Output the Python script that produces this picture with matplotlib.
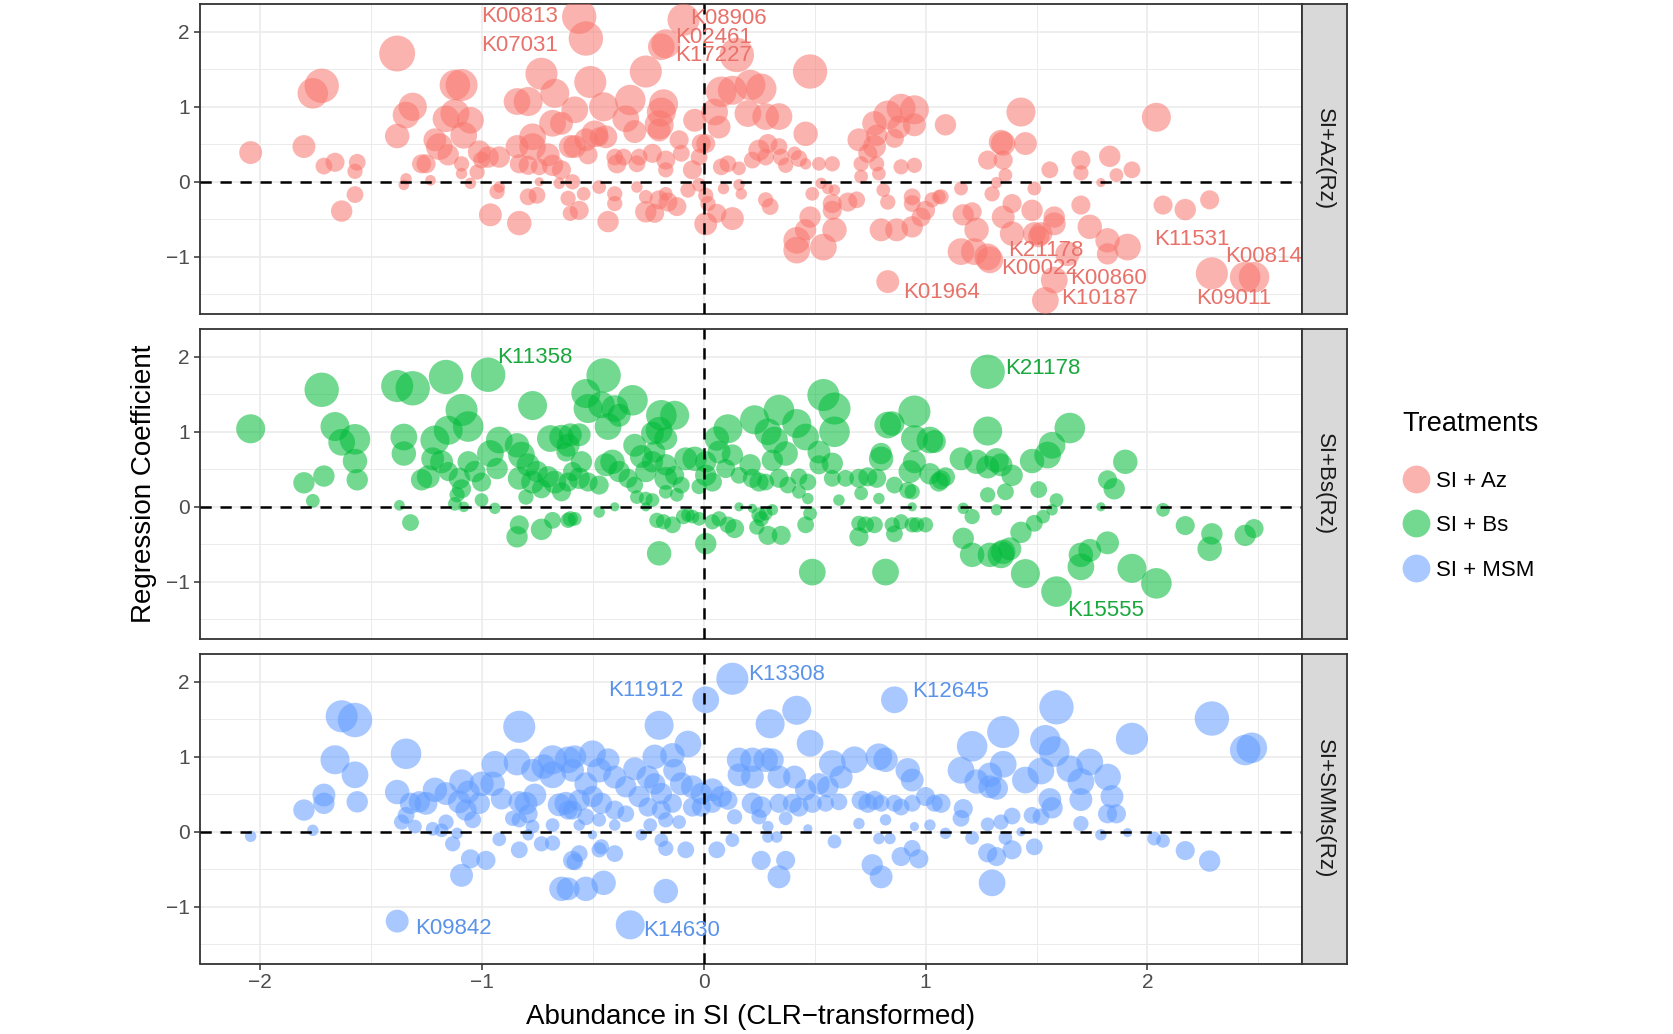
import matplotlib
matplotlib.use('Agg')
import matplotlib.pyplot as plt
from matplotlib.lines import Line2D
from matplotlib.ticker import MultipleLocator

plt.rcParams['font.family'] = ['Liberation Sans', 'DejaVu Sans']

# ---------------- data ----------------
# Panel SI+Az(Rz)
az_x = [-2.04, -1.80, -1.71, -1.66, -1.56, -1.57, -1.57, -1.63, -1.76, -1.72, -1.38, -1.38, -1.34, -1.31, -1.34, -1.35,
        -1.23, -1.27, -1.25, -1.19, -1.21, -1.16, -1.12, -1.12, -1.09, -1.05, -1.08, -1.15, -1.09, -1.09, -1.05, -1.01,
        -1.00, -0.97, -1.02, -0.92, -0.93, -0.92, -0.96, -0.83, -0.84, -0.79, -0.73, -0.67, -0.68, -0.64, -0.84, -0.77,
        -0.77, -0.83, -0.79, -0.74, -0.70, -0.68, -0.64, -0.60, -0.79, -0.75, -0.74, -0.65, -0.61, -0.60,
        -0.56, -0.53, -0.51, -0.58, -0.45, -0.33, -0.26, -0.17, -0.19, -0.09, 0.15, -0.35, -0.49, -0.44, -0.31, -0.20,
        -0.19, -0.20, -0.18, -0.04, -0.01, 0.07, 0.05, 0.08, 0.13, 0.21, 0.26, 0.20, 0.28, 0.34, 0.46, 0.48,
        -0.58, -0.53, -0.47, -0.52, -0.39, -0.40, -0.36, -0.30, -0.29, -0.23, -0.17, -0.17, -0.11, -0.10, -0.05, 0.01,
        -0.02, 0.08, 0.11, 0.16, 0.22, 0.25, 0.28, 0.29, 0.34, 0.35, 0.37, 0.43, 0.52, 0.58, 0.41, 0.46,
        -0.59, -0.54, -0.56, -0.47, -0.40, -0.40, -0.43, -0.30, -0.26, -0.20, -0.16, -0.12, -0.26, -0.22, -0.17, -0.07,
        -0.02, 0.01, 0.02, 0.06, 0.01, 0.13, 0.16, 0.09, 0.17, 0.28, 0.30, 0.48, 0.49, 0.53, 0.56, 0.59,
        0.58, 0.58, 0.59, 0.42, 0.42, 0.54, 0.46, 0.65, 0.69, 0.83, 0.70, 0.74, 0.77, 0.77, 0.78, 0.83,
        0.89, 0.95, 0.95, 0.88, 0.86, 1.09, 0.71, 0.78, 0.71, 0.79, 0.89, 0.95, 0.81, 0.83, 0.94, 0.94,
        0.98, 1.00, 0.80, 0.87, 0.94, 1.03, 1.06,
        1.43, 1.34, 1.35, 1.45, 1.28, 1.35, 1.36, 1.32, 1.16, 1.07, 1.30, 1.39, 1.48, 1.49, 1.56, 1.70,
        1.70, 1.83, 1.86, 1.93, 1.79, 1.70, 1.17, 1.21, 1.23, 1.35, 1.39, 1.52, 1.58, 1.58, 1.51, 1.74,
        1.82, 1.82, 1.91, 1.16, 1.22, 1.28, 1.29, 1.64, 1.58, 1.54, 2.07, 2.17, 2.28, 2.04, 2.29, 2.44,
        2.48, 1.49]
az_y = [0.39, 0.47, 0.21, 0.26, 0.26, 0.14, -0.17, -0.39, 1.18, 1.28, 1.71, 0.61, 0.89, 1.00, 0.04, -0.04,
        0.02, 0.24, 0.24, 0.47, 0.56, 0.84, 0.91, 1.29, 1.29, 0.82, 0.62, 0.36, 0.24, 0.11, -0.02, 0.40,
        0.29, 0.33, 0.13, 0.33, -0.13, -0.07, -0.44, -0.55, 1.07, 1.07, 1.44, 1.18, 0.78, 0.78, 0.47, 0.60,
        0.47, 0.24, 0.22, 0.20, 0.36, 0.22, 0.16, 0.47, -0.20, -0.18, 0.00, -0.02, -0.22, -0.42,
        2.20, 1.91, 1.33, 0.96, 1.00, 1.09, 1.47, 1.84, 1.80, 2.16, 1.69, 0.84, 0.64, 0.60, 0.67, 0.76,
        0.93, 0.69, 1.04, 0.82, 0.51, 0.73, 0.93, 1.20, 1.22, 1.29, 1.24, 0.91, 0.87, 0.87, 0.64, 1.47,
        0.47, 0.56, 0.60, 0.36, 0.24, 0.33, 0.33, 0.24, 0.33, 0.38, 0.29, 0.16, 0.56, 0.38, 0.16, 0.51,
        0.33, 0.20, 0.24, 0.18, 0.29, 0.42, 0.33, 0.51, 0.47, 0.33, 0.22, 0.31, 0.24, 0.24, 0.38, 0.24,
        0.00, -0.16, -0.38, -0.07, -0.29, -0.16, -0.53, -0.07, -0.20, -0.24, -0.27, -0.33, -0.40, -0.42, -0.16, -0.11,
        -0.04, -0.18, -0.29, -0.42, -0.56, -0.49, -0.04, -0.09, -0.16, -0.24, -0.33, -0.47, -0.16, -0.02, -0.09, -0.11,
        -0.29, -0.38, -0.64, -0.78, -0.91, -0.87, -0.64, -0.27, -0.24, -1.33, 0.56, 0.38, 0.47, 0.78, 0.62, 0.89,
        0.98, 0.96, 0.76, 0.73, 0.58, 0.76, 0.24, 0.24, 0.07, 0.11, 0.20, 0.22, -0.11, -0.27, -0.20, -0.29,
        -0.47, -0.38, -0.64, -0.64, -0.60, -0.24, -0.20,
        0.93, 0.53, 0.51, 0.51, 0.29, 0.29, 0.09, -0.01, -0.09, -0.20, -0.16, -0.29, -0.38, -0.09, 0.16, 0.29,
        0.12, 0.34, 0.09, 0.16, -0.01, -0.31, -0.44, -0.40, -0.64, -0.47, -0.69, -0.69, -0.56, -0.47, -0.73, -0.60,
        -0.78, -0.96, -0.87, -0.93, -0.93, -1.00, -1.04, -0.96, -1.31, -1.58, -0.31, -0.37, -0.24, 0.86, -1.22, -1.27,
        -1.27, -0.69]
az_w = [30, 30, 22, 25, 22, 20, 22, 28, 40, 45, 47, 32, 35, 37, 15, 14,
        14, 25, 25, 35, 30, 35, 38, 40, 42, 35, 35, 28, 20, 15, 15, 30,
        22, 28, 20, 28, 20, 15, 30, 32, 35, 38, 42, 38, 35, 30, 30, 35,
        35, 25, 25, 22, 30, 28, 25, 30, 22, 22, 12, 15, 20, 20,
        45, 45, 42, 35, 38, 40, 42, 38, 35, 42, 45, 35, 35, 30, 30, 38,
        38, 30, 38, 30, 25, 30, 35, 40, 38, 40, 40, 35, 35, 35, 32, 45,
        30, 30, 25, 25, 25, 22, 22, 22, 22, 25, 25, 20, 25, 22, 25, 25,
        22, 22, 22, 18, 22, 28, 22, 25, 22, 22, 20, 22, 18, 20, 18, 15,
        20, 18, 25, 18, 20, 20, 28, 15, 18, 25, 25, 25, 28, 25, 18, 20,
        18, 20, 20, 25, 30, 30, 15, 15, 15, 20, 22, 28, 18, 15, 15, 15,
        25, 25, 32, 35, 35, 35, 28, 25, 22, 30, 30, 25, 30, 32, 28, 38,
        38, 38, 30, 30, 25, 28, 20, 20, 18, 18, 20, 20, 18, 20, 22, 22,
        25, 25, 30, 30, 28, 20, 18,
        38, 32, 32, 30, 25, 25, 18, 15, 18, 20, 20, 25, 28, 18, 22, 25,
        20, 28, 18, 22, 12, 25, 28, 25, 32, 30, 32, 30, 30, 28, 28, 32,
        32, 28, 35, 35, 35, 35, 35, 32, 35, 35, 25, 28, 25, 38, 42, 40,
        40, 30]

# Panel SI+Bs(Rz)
bs_x = [-2.04, -1.72, -1.66, -1.63, -1.57, -1.57, -1.56, -1.71, -1.80, -1.76, -1.38, -1.31, -1.16, -0.97, -0.77, -1.09,
        -1.06, -1.15, -1.21, -1.35, -1.35, -1.37, -1.32, -1.22, -1.18, -1.24, -1.27, -1.15, -1.10, -1.09, -1.11, -1.12,
        -1.08, -1.06, -1.03, -1.00, -1.00, -0.94, -0.96, -0.92, -0.93, -0.84, -0.82, -0.83, -0.79, -0.77, -0.75, -0.80,
        -0.70, -0.67, -0.69, -0.64, -0.61, -0.73, -0.64, -0.61, -0.83, -0.84, -0.73, -0.68, -0.60,
        -0.45, -0.53, -0.52, -0.46, -0.40, -0.32, -0.43, -0.38, -0.19, -0.13, -0.20, -0.17, -0.23, -0.31, -0.28, -0.22,
        -0.60, -0.56, -0.62, -0.55, -0.59, -0.56, -0.52, -0.47, -0.44, -0.41, -0.38, -0.34, -0.31, -0.26, -0.23, -0.17,
        -0.17, -0.13, -0.10, -0.08, -0.04, 0.01, 0.01, 0.04, -0.02, -0.26, -0.23, -0.17, -0.12, -0.30, 0.06, 0.11,
        0.07, 0.13, 0.10, 0.16, 0.21, 0.23, 0.29, 0.34, 0.42, 0.32, 0.37, 0.31, 0.46, 0.54, 0.59, 0.59,
        0.52, 0.58, 0.52, 0.22, 0.25, 0.28, 0.34, 0.38, 0.43, 0.47, 0.43, 0.58, 0.64, 0.70, 0.74, 0.78,
        0.80, 0.80, 0.83, 0.85, 0.95, 0.95, 1.02, 0.95, 0.93, 1.06, 1.02, 0.86, 0.92, 0.94, 0.71, 0.79,
        0.61, 0.47, -0.61, -0.58, -0.47, -0.40, -0.26, -0.21, -0.18, -0.14, -0.09, -0.07, -0.05, -0.02, 0.04, 0.07,
        0.11, 0.14, 0.01, -0.20, 0.16, 0.22, 0.25, 0.26, 0.28, 0.31, 0.24, 0.29, 0.35, 0.46, 0.48, 0.49,
        0.70, 0.73, 0.77, 0.70, 0.85, 0.86, 0.89, 0.94, 0.96, 1.00, 0.82, 0.94,
        1.28, 1.28, 1.04, 1.16, 1.23, 1.28, 1.32, 1.34, 1.39, 1.07, 1.09, 1.28, 1.36, 1.32, 1.17, 1.21,
        1.48, 1.55, 1.57, 1.65, 1.51, 1.59, 1.57, 1.53, 1.49, 1.43, 1.17, 1.21, 1.29, 1.34, 1.35, 1.38,
        1.45, 1.59, 1.70, 1.70, 1.74, 1.82, 1.82, 1.85, 1.90, 1.79, 1.93, 2.04, 2.07, 2.17, 2.29, 2.28,
        2.44, 2.48]
bs_y = [1.04, 1.56, 1.07, 0.86, 0.90, 0.61, 0.36, 0.41, 0.32, 0.08, 1.61, 1.58, 1.73, 1.76, 1.35, 1.29,
        1.07, 1.02, 0.89, 0.93, 0.71, 0.02, -0.21, 0.64, 0.60, 0.40, 0.36, 0.47, 0.38, 0.24, 0.16, 0.04,
        0.00, 0.60, 0.47, 0.33, 0.09, -0.02, 0.71, 0.89, 0.51, 0.82, 0.69, 0.38, 0.56, 0.33, 0.47, 0.13,
        0.40, 0.33, 0.91, 0.93, 0.82, 0.24, 0.20, 0.33, -0.24, -0.40, -0.30, -0.18, -0.16,
        1.75, 1.51, 1.31, 1.36, 1.31, 1.42, 1.07, 1.22, 1.22, 1.22, 1.02, 0.91, 0.98, 0.82, 0.67, 0.73,
        0.96, 0.96, 0.73, 0.60, 0.47, 0.38, 0.33, 0.29, 0.56, 0.60, 0.47, 0.38, 0.29, 0.47, 0.60, 0.56,
        0.38, 0.42, 0.29, 0.64, 0.64, 0.60, 0.42, 0.33, 0.27, 0.11, 0.09, 0.20, 0.16, 0.13, 0.91, 1.04,
        0.73, 0.69, 0.51, 0.42, 0.56, 1.16, 1.00, 1.29, 1.11, 0.89, 0.71, 0.62, 0.93, 1.49, 1.31, 1.00,
        0.73, 0.58, 0.56, 0.38, 0.33, 0.33, 0.38, 0.29, 0.40, 0.33, 0.20, 0.38, 0.38, 0.38, 0.40, 0.38,
        0.64, 0.71, 1.09, 1.11, 1.27, 0.91, 0.89, 0.60, 0.47, 0.33, 0.44, 0.29, 0.22, 0.20, 0.18, 0.11,
        0.09, 0.11, -0.18, -0.16, -0.07, 0.00, 0.00, -0.18, -0.20, -0.24, -0.13, -0.11, -0.13, -0.16, -0.20, -0.16,
        -0.24, -0.29, -0.49, -0.62, 0.00, -0.02, -0.11, -0.16, -0.09, -0.04, -0.27, -0.38, -0.38, -0.24, -0.09, -0.87,
        -0.22, -0.24, -0.24, -0.40, -0.24, -0.36, -0.20, -0.24, -0.24, -0.24, -0.87, 0.00,
        1.80, 1.01, 0.87, 0.64, 0.60, 0.53, 0.62, 0.56, 0.42, 0.36, 0.40, 0.16, 0.20, -0.04, -0.02, -0.13,
        0.61, 0.69, 0.82, 1.05, 0.23, 0.09, -0.04, -0.13, -0.22, -0.34, -0.42, -0.64, -0.64, -0.64, -0.60, -0.56,
        -0.89, -1.13, -0.64, -0.80, -0.58, -0.48, 0.36, 0.24, 0.60, 0.00, -0.82, -1.02, -0.04, -0.25, -0.36, -0.56,
        -0.38, -0.29]
bs_w = [38, 45, 38, 35, 40, 32, 28, 28, 28, 18, 42, 45, 45, 45, 38, 42,
        40, 38, 38, 35, 32, 14, 22, 30, 30, 30, 28, 25, 28, 25, 20, 18,
        14, 28, 28, 25, 18, 15, 35, 35, 28, 32, 35, 30, 30, 30, 28, 20,
        28, 30, 35, 32, 30, 25, 25, 25, 25, 28, 28, 22, 20,
        45, 38, 38, 35, 35, 40, 35, 30, 40, 38, 35, 30, 30, 30, 30, 28,
        30, 30, 25, 28, 25, 28, 25, 25, 30, 32, 28, 25, 22, 28, 28, 28,
        30, 25, 22, 30, 32, 28, 28, 25, 20, 18, 18, 18, 18, 18, 32, 38,
        30, 28, 25, 22, 28, 38, 35, 40, 38, 35, 32, 28, 35, 42, 42, 40,
        30, 28, 25, 25, 25, 22, 25, 22, 22, 22, 18, 22, 22, 25, 25, 25,
        32, 28, 35, 32, 42, 35, 35, 30, 30, 25, 28, 22, 22, 20, 18, 15,
        15, 15, 20, 18, 15, 12, 12, 20, 20, 22, 20, 18, 18, 18, 20, 20,
        22, 25, 28, 32, 12, 12, 20, 20, 18, 15, 20, 25, 25, 22, 18, 35,
        20, 22, 22, 25, 20, 22, 20, 20, 20, 20, 35, 12,
        45, 38, 30, 30, 32, 30, 32, 30, 28, 25, 25, 20, 22, 15, 15, 20,
        32, 35, 35, 40, 22, 18, 15, 18, 22, 28, 28, 32, 32, 35, 32, 30,
        38, 40, 32, 35, 30, 30, 25, 28, 32, 12, 38, 40, 18, 25, 28, 32,
        28, 25]

# Panel SI+SMMs(Rz)
msm_x = [-2.04, -1.76, -1.80, -1.71, -1.71, -1.56, -1.66, -1.57, -1.63, -1.57, -1.34, -1.38, -1.36, -1.34, -1.30, -1.32,
         -1.28, -1.25, -1.21, -1.16, -1.22, -1.16, -1.18, -1.13, -1.11, -1.09, -1.10, -1.07, -1.04, -1.06, -1.00, -1.01,
         -0.95, -0.91, -0.94, -0.83, -0.84, -0.77, -0.72, -0.68, -0.68, -0.61, -0.83, -0.80, -0.76, -0.79, -0.86, -0.83,
         -0.77, -0.68, -0.65, -0.62, -0.59, -0.92, -0.83, -0.73, -0.68, -0.79, -1.05, -0.98, -1.09, -0.64, -0.59, -1.38,
         0.13, 0.01, 0.86, 0.42, 0.30, 0.48, -0.20, -0.07, -0.22, -0.14, -0.13, -0.31, -0.50, -0.43, -0.58, -0.59,
         -0.47, -0.40, -0.53, -0.25, -0.22, -0.35, -0.29, -0.19, -0.10, -0.05, -0.01, 0.04, 0.08, 0.11, -0.56, -0.50,
         -0.46, -0.40, -0.35, -0.61, -0.53, -0.47, -0.25, -0.19, -0.14, -0.05, -0.01, 0.04, -0.17, -0.24, -0.11, -0.56,
         -0.40, 0.16, 0.22, 0.28, 0.31, 0.16, 0.22, 0.34, 0.41, 0.46, 0.58, 0.62, 0.68, 0.56, 0.79, 0.82,
         0.92, 0.94, 0.52, 0.22, 0.26, 0.34, 0.40, 0.43, 0.49, 0.55, 0.61, 0.71, 0.74, 0.77, 0.80, 0.86,
         0.89, 0.94, 1.00, 1.04, 0.14, 0.25, 0.37, 0.29, 0.70, 1.02, 0.47, 0.82, 0.95, -0.50, -0.46, -0.40,
         -0.56, -0.58, -0.47, -0.28, -0.19, -0.17, -0.08, 0.06, 0.13, 0.29, 0.33, 0.59, 0.79, 0.84, 0.26, 0.37,
         0.34, 0.76, 0.80, 0.89, 0.94, 0.97, -0.61, -0.53, -0.45, -0.17, -0.33,
         1.59, 1.35, 1.21, 1.54, 1.58, 1.93, 2.29, 2.44, 2.47, 1.16, 1.35, 1.23, 1.29, 1.29, 1.32, 1.45,
         1.52, 1.65, 1.74, 1.70, 1.82, 1.84, 1.70, 1.56, 1.57, 1.82, 1.86, 1.07, 1.17, 1.16, 1.28, 1.34,
         1.39, 1.48, 1.52, 1.70, 1.09, 1.21, 1.36, 1.43, 1.79, 1.91, 2.03, 2.07, 2.17, 2.28, 1.28, 1.32,
         1.39, 1.49, 1.30]
msm_y = [-0.06, 0.02, 0.29, 0.49, 0.38, 0.40, 0.96, 0.76, 1.54, 1.49, 1.04, 0.53, 0.13, 0.22, 0.07, 0.38,
         0.40, 0.38, 0.56, 0.51, 0.04, 0.13, 0.02, -0.16, -0.02, 0.67, 0.40, 0.29, 0.16, 0.53, 0.64, 0.38,
         0.64, 0.44, 0.90, 1.40, 0.93, 0.82, 0.87, 0.76, 0.96, 0.96, 0.40, 0.38, 0.49, 0.24, 0.18, 0.16,
         0.07, 0.09, 0.36, 0.38, 0.29, -0.10, -0.24, -0.16, -0.15, -0.04, -0.36, -0.38, -0.58, -0.76, -0.38, -1.19,
         2.04, 1.76, 1.76, 1.62, 1.44, 1.18, 1.42, 1.17, 1.00, 1.02, 0.82, 0.84, 1.04, 0.96, 1.00, 0.82,
         0.82, 0.73, 0.64, 0.73, 0.64, 0.60, 0.47, 0.51, 0.64, 0.60, 0.51, 0.56, 0.47, 0.42, 0.42, 0.47,
         0.38, 0.29, 0.24, 0.29, 0.20, 0.16, 0.33, 0.29, 0.38, 0.33, 0.33, 0.38, 0.16, 0.09, 0.13, 0.09,
         0.09, 0.96, 0.96, 0.96, 0.96, 0.76, 0.73, 0.73, 0.73, 0.56, 0.91, 0.73, 0.96, 0.60, 1.00, 0.96,
         0.82, 0.69, 0.64, 0.38, 0.33, 0.38, 0.38, 0.33, 0.38, 0.38, 0.40, 0.42, 0.38, 0.42, 0.38, 0.38,
         0.33, 0.38, 0.47, 0.38, 0.20, 0.20, 0.18, 0.07, 0.11, 0.09, 0.04, 0.16, 0.07, -0.04, -0.20, -0.29,
         -0.29, -0.40, -0.24, -0.04, -0.11, -0.22, -0.24, -0.24, -0.11, -0.07, -0.07, -0.13, -0.09, -0.09, -0.38, -0.38,
         -0.60, -0.44, -0.60, -0.33, -0.22, -0.36, -0.76, -0.76, -0.68, -0.79, -1.24,
         1.66, 1.33, 1.14, 1.22, 1.07, 1.24, 1.51, 1.09, 1.12, 0.82, 0.90, 0.67, 0.76, 0.60, 0.58, 0.69,
         0.81, 0.84, 0.93, 0.67, 0.73, 0.47, 0.43, 0.43, 0.32, 0.24, 0.24, 0.38, 0.31, 0.18, 0.10, 0.13,
         0.21, 0.22, 0.20, 0.11, -0.02, -0.08, -0.08, 0.00, -0.04, -0.01, -0.09, -0.12, -0.25, -0.39, -0.28, -0.33,
         -0.24, -0.20, -0.68]
msm_w = [15, 15, 28, 30, 28, 28, 38, 35, 42, 45, 40, 32, 20, 22, 18, 28,
         28, 30, 32, 30, 18, 20, 18, 20, 15, 32, 30, 28, 22, 30, 32, 28,
         32, 28, 35, 42, 35, 30, 32, 35, 38, 35, 28, 30, 30, 25, 20, 20,
         18, 18, 30, 30, 25, 18, 22, 20, 20, 15, 25, 25, 30, 32, 25, 30,
         42, 35, 35, 38, 38, 35, 38, 35, 32, 32, 30, 30, 35, 30, 30, 30,
         32, 30, 30, 30, 28, 28, 28, 28, 30, 30, 28, 30, 28, 25, 28, 28,
         28, 25, 22, 25, 22, 18, 25, 25, 25, 25, 25, 25, 20, 18, 18, 15,
         15, 32, 32, 32, 30, 30, 30, 30, 30, 28, 35, 30, 35, 28, 35, 32,
         32, 30, 28, 28, 28, 25, 25, 25, 25, 22, 22, 25, 25, 25, 22, 22,
         22, 22, 25, 22, 20, 20, 18, 15, 15, 15, 12, 15, 12, 12, 20, 22,
         22, 22, 20, 15, 18, 20, 22, 22, 18, 15, 15, 18, 15, 15, 25, 25,
         30, 28, 30, 25, 22, 25, 30, 32, 32, 32, 38,
         45, 42, 40, 40, 40, 42, 45, 40, 40, 35, 35, 32, 32, 30, 30, 35,
         35, 35, 35, 35, 35, 30, 30, 30, 28, 25, 25, 25, 25, 22, 18, 20,
         22, 22, 22, 20, 15, 18, 18, 12, 15, 12, 18, 18, 25, 28, 25, 25,
         25, 22, 35]

# labelled KOs: name, x, y (left edge of text)
az_lab = ["K00813", "K07031", "K08906", "K02461", "K17227", "K01964", "K21178",
          "K00022", "K00860", "K10187", "K11531", "K00814", "K09011"]
az_lab_x = [-1.00, -1.00, -0.06, -0.13, -0.13, 0.90, 1.37, 1.34, 1.65, 1.61, 2.03, 2.35, 2.22]
az_lab_y = [2.20, 1.82, 2.18, 1.93, 1.69, -1.48, -0.91, -1.16, -1.29, -1.56, -0.77, -1.00, -1.56]
bs_lab = ["K11358", "K21178", "K15555"]
bs_lab_x = [-0.93, 1.36, 1.64]
bs_lab_y = [1.99, 1.85, -1.38]
msm_lab = ["K13308", "K11912", "K12645", "K09842", "K14630"]
msm_lab_x = [0.20, -0.43, 0.94, -1.30, -0.27]
msm_lab_y = [2.10, 1.89, 1.87, -1.29, -1.31]

treatments = ["SI + Az", "SI + Bs", "SI + MSM"]
strip_labels = ["SI+Az(Rz)", "SI+Bs(Rz)", "SI+SMMs(Rz)"]
colors = ["#F8766D", "#00BA38", "#619CFF"]
label_colors = ["#E8716A", "#19A83E", "#5B93E8"]
x_ticks = [-2, -1, 0, 1, 2]
y_ticks = [-1, 0, 1, 2]

panels = [
    (az_x, az_y, az_w, az_lab, az_lab_x, az_lab_y),
    (bs_x, bs_y, bs_w, bs_lab, bs_lab_x, bs_lab_y),
    (msm_x, msm_y, msm_w, msm_lab, msm_lab_x, msm_lab_y),
]

# ---------------- figure ----------------
FW, FH = 1674, 1034
fig = plt.figure(figsize=(FW / 100, FH / 100), dpi=100)
left_px, right_px = 199.6, 1302.0
tops = [4.0, 329.0, 654.0]
ph = 309.5
strip_w = 45.0
border = '#333333'

for i, (px, py, pw, lab, lx, ly) in enumerate(panels):
    bottom = 1 - (tops[i] + ph) / FH
    ax = fig.add_axes([left_px / FW, bottom, (right_px - left_px) / FW, ph / FH])
    ax.set_xlim(-2.27, 2.696)
    ax.set_ylim(-1.755, 2.37)
    ax.set_axisbelow(True)
    ax.xaxis.set_minor_locator(MultipleLocator(0.5))
    ax.yaxis.set_minor_locator(MultipleLocator(0.5))
    ax.set_xticks(x_ticks)
    ax.set_yticks(y_ticks)
    ax.grid(which='major', color='#EBEBEB', lw=1.2)
    ax.grid(which='minor', color='#EBEBEB', lw=0.7)
    ax.tick_params(which='minor', length=0)
    ax.tick_params(which='major', length=4.5, width=1.1, color=border,
                   labelsize=15, labelcolor='#4D4D4D', pad=2.5)
    if i < 2:
        ax.tick_params(axis='x', labelbottom=False, length=0)
    for sp in ax.spines.values():
        sp.set_color(border)
        sp.set_linewidth(1.3)
    sizes = [(0.55 * w) ** 2 for w in pw]
    ax.scatter(px, py, s=sizes, c=colors[i], alpha=0.55, edgecolors='none', zorder=3)
    ax.axhline(0, color='black', lw=1.8, ls=(0, (4.5, 3.5)), zorder=4)
    ax.axvline(0, color='black', lw=1.8, ls=(0, (4.5, 3.5)), zorder=4)
    for t, tx, ty in zip(lab, lx, ly):
        ax.text(tx, ty, t, color=label_colors[i], fontsize=16, ha='left', va='center', zorder=5)

    sax = fig.add_axes([right_px / FW, bottom, strip_w / FW, ph / FH])
    sax.set_facecolor('#D9D9D9')
    sax.set_xticks([])
    sax.set_yticks([])
    for sp in sax.spines.values():
        sp.set_color(border)
        sp.set_linewidth(1.3)
    sax.text(0.5, 0.5, strip_labels[i], rotation=-90, ha='center', va='center',
             fontsize=16, color='#1A1A1A', transform=sax.transAxes)

fig.text(144 / FW, 1 - 483.6 / FH, 'Regression Coefficient', rotation=90,
         ha='center', va='center', fontsize=20)
fig.text((left_px + right_px) / 2 / FW, 1 - 1017.5 / FH, 'Abundance in SI (CLR\u2212transformed)',
         ha='center', va='center', fontsize=20)

# legend
fig.text(1402 / FW, 1 - 424 / FH, 'Treatments', ha='left', va='center', fontsize=19.5)
handles = [Line2D([], [], marker='o', ls='', ms=20, markerfacecolor=c,
                  markeredgecolor='none', alpha=0.55) for c in colors]
fig.legend(handles, treatments, loc='upper left',
           bbox_to_anchor=(1392 / FW, 1 - 462 / FH), frameon=False, fontsize=16,
           handletextpad=0.2, labelspacing=1.05, handlelength=1.4, borderaxespad=0)

fig.savefig('out.png', dpi=100)
